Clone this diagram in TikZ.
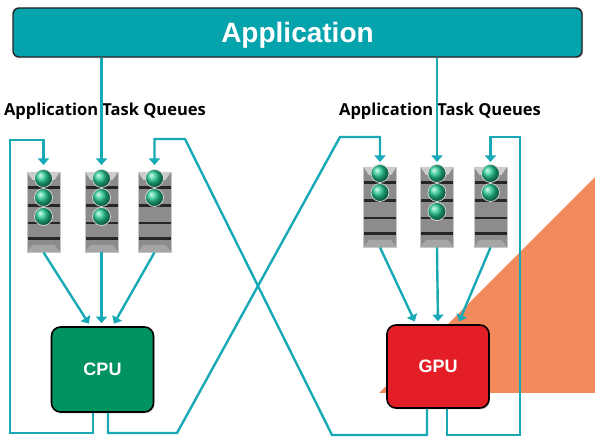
\documentclass[tikz,border=0pt]{standalone}
\usepackage{fontspec}
\setmainfont{Liberation Sans}
\newfontfamily\queuefont{Open Sans}
\usetikzlibrary{arrows.meta,shadows}

\definecolor{linkteal}{HTML}{17A9B6}
\definecolor{appteal}{HTML}{05A3AC}
\definecolor{cpugreen}{HTML}{00935F}
\definecolor{gpured}{HTML}{E31E26}
\definecolor{ballgreen}{HTML}{22C890}
\definecolor{wedge}{HTML}{F28A5B}

\tikzset{
  link/.style={draw=linkteal, line width=2.4pt},
  feed/.style={link, -{Triangle[width=11pt,length=6.5pt]}},
  queue/.style={draw=gray!45, fill=gray!90, minimum width=33pt, minimum height=80pt, inner sep=0pt},
  slot/.style={line width=2.4pt, black!85},
  chip/.style={draw=black, line width=1.6pt, rounded corners=9pt, minimum width=102pt,
    text=white, font=\bfseries\fontsize{18}{20}\selectfont,
    drop shadow={opacity=0.35, shadow xshift=1pt, shadow yshift=-1.5pt}},
  tqlabel/.style={font=\queuefont\bfseries\fontsize{16.5}{18}\selectfont}
}

% one task queue: name, centre x, top y, balls
\newcommand\drawqueue[4]{%
  \node[queue, anchor=north] (#1) at (#2,#3) {};
  \fill[gray!40] ({#2-16.5},#3) -- ({#2+16.5},#3) -- ({#2+11},{#3+8}) -- ({#2-11},{#3+8}) -- cycle;
  \fill[gray!70] ({#2-16.5},{#3+80}) -- ({#2+16.5},{#3+80}) -- ({#2+11},{#3+73}) -- ({#2-11},{#3+73}) -- cycle;
  \foreach \d in {15.5,33.5,51,66.5}
    \draw[slot] ({#2-16},{#3+\d}) -- ({#2+16},{#3+\d});
  \foreach \b in {1,...,#4}
    \shadedraw[ball color=ballgreen, draw=gray!25, line width=0.7pt] (#2,{#3+6.5+19*(\b-1)}) circle (9pt);
}

\begin{document}
\begin{tikzpicture}[x=1pt,y=-1pt]
\useasboundingbox (0,0) rectangle (595,446);

% orange wedge in the background
\fill[wedge] (379,393) -- (595,177) -- (595,393) -- cycle;

% application bar
\node[draw=black!85, line width=1.4pt, fill=appteal, rounded corners=6pt,
  minimum width=569pt, minimum height=49pt, text=white, text depth=0pt,
  font=\bfseries\fontsize{28}{30}\selectfont,
  drop shadow={opacity=0.3, shadow xshift=1pt, shadow yshift=-1.5pt}]
  (app) at (297.5,32.5) {Application};

\node[tqlabel] (tqL) at (105,111) {Application Task Queues};
\node[tqlabel] (tqR) at (440,111) {Application Task Queues};

% queues
\drawqueue{q1}{43.5}{172}{3}
\drawqueue{q2}{101.5}{172}{3}
\drawqueue{q3}{154.5}{172}{2}
\drawqueue{q4}{380}{167}{2}
\drawqueue{q5}{437}{167}{3}
\drawqueue{q6}{490.5}{167}{2}

% processors
\node[chip, fill=cpugreen, minimum height=85pt] (cpu) at (102.5,369.5) {CPU};
\node[chip, fill=gpured, minimum height=83pt] (gpu) at (438,366.5) {GPU};

% corner points of the return paths
\coordinate (loopL) at (10,433);
\coordinate (hookL) at (10,140);
\coordinate (crossA) at (177,433);
\coordinate (crossB) at (340,137);
\coordinate (crossC) at (332,435);
\coordinate (crossD) at (185,139);
\coordinate (loopR) at (520,435);
\coordinate (hookR) at (520,137);

% application into queues
\draw[feed, shorten >=7pt] (app.south -| q2.north) -- (q2.north);
\draw[feed, shorten >=5pt] (app.south -| q5.north) -- (q5.north);

% queues into processors
\draw[feed, shorten >=3pt] (q1.south) -- ([xshift=-12pt]cpu.north);
\draw[feed, shorten >=3pt] (q2.south) -- ([xshift=-1pt]cpu.north);
\draw[feed, shorten >=3pt] (q3.south) -- ([xshift=10pt]cpu.north);
\draw[feed, shorten >=3pt] (q4.south) -- ([xshift=-22pt]gpu.north);
\draw[feed, shorten >=3pt] (q5.south) -- (gpu.north);
\draw[feed, shorten >=3pt] (q6.south) -- ([xshift=20pt]gpu.north);

% processors back into queues
\draw[feed, shorten >=7pt] ([xshift=-9.5pt]cpu.south) |- (loopL) -- (hookL) -| (q1.north);
\draw[feed, shorten >=5pt] ([xshift=5.5pt]cpu.south) |- (crossA) -- (crossB) -| (q4.north);
\draw[feed, shorten >=7pt] ([xshift=-11pt]gpu.south) |- (crossC) -- (crossD) -| (q3.north);
\draw[feed, shorten >=5pt] ([xshift=9pt]gpu.south) |- (loopR) -- (hookR) -| (q6.north);
\end{tikzpicture}
\end{document}
